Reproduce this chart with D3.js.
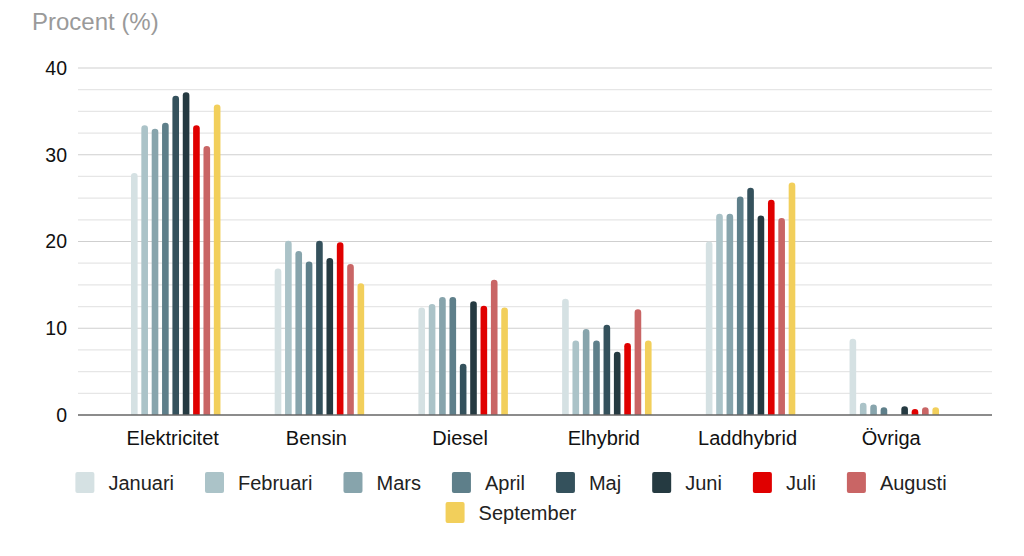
<!DOCTYPE html>
<html>
<head>
<meta charset="utf-8">
<script src="https://cdn.jsdelivr.net/npm/d3@7"></script>
<style>
  body { margin: 0; background: #fff; }
  text { font-family: "Liberation Sans", Arial, sans-serif; }
</style>
</head>
<body>
<script>
var w = 1024;
var h = 556;

var categories = ['Elektricitet', 'Bensin', 'Diesel', 'Elhybrid', 'Laddhybrid', 'Övriga'];
var months = ['Januari', 'Februari', 'Mars', 'April', 'Maj', 'Juni', 'Juli', 'Augusti', 'September'];
var colors = ['#d5e1e3', '#abc3c8', '#87a4ac', '#5e7f8a', '#34515c', '#253a41', '#e00000', '#c96565', '#f2cf5b'];

// one array per category, values per month
var elektricitet = [27.9, 33.4, 33.0, 33.7, 36.8, 37.2, 33.4, 31.0, 35.8];
var bensin       = [16.9, 20.1, 18.9, 17.7, 20.1, 18.1, 19.9, 17.4, 15.2];
var diesel       = [12.4, 12.8, 13.6, 13.6, 5.9, 13.1, 12.6, 15.6, 12.4];
var elhybrid     = [13.4, 8.6, 9.9, 8.6, 10.4, 7.3, 8.3, 12.2, 8.6];
var laddhybrid   = [20.0, 23.2, 23.2, 25.2, 26.2, 23.0, 24.8, 22.7, 26.8];
var ovriga       = [8.8, 1.4, 1.2, 0.9, 0, 1.0, 0.7, 0.9, 0.9];
var yTicks = [0, 10, 20, 30, 40];

var values = [elektricitet, bensin, diesel, elhybrid, laddhybrid, ovriga];

var svg = d3.select('body').append('svg')
  .attr('width', w)
  .attr('height', h);

var x0 = d3.scaleBand()
  .domain(categories)
  .range([78, 992])
  .paddingInner(0)
  .paddingOuter(0.18);

var x1 = d3.scaleBand()
  .domain(months)
  .range([-46.6, 46.6])
  .paddingInner(0.36)
  .paddingOuter(0.18);

var y = d3.scaleLinear()
  .domain([0, 40])
  .range([415, 68]);

// grid lines, every 2.5 units
var grid = d3.range(2.5, 40.01, 2.5);
svg.append('g').selectAll('line')
  .data(grid)
  .join('line')
  .attr('x1', 78)
  .attr('x2', 992)
  .attr('y1', d => y(d))
  .attr('y2', d => y(d))
  .attr('stroke', d => d % 10 == 0 ? '#cfcfcf' : '#e6e6e6')
  .attr('stroke-width', 1.2);

// y axis
var yAxis = svg.append('g')
  .attr('transform', 'translate(67,0)')
  .call(d3.axisLeft(y).tickValues(yTicks).tickSize(0).tickPadding(0));
yAxis.select('.domain').remove();
yAxis.selectAll('text')
  .attr('font-size', 19.5)
  .attr('fill', '#111')
  .style('font-family', '"Liberation Sans", Arial, sans-serif');

svg.append('text')
  .attr('x', 32)
  .attr('y', 30)
  .attr('font-size', 24)
  .attr('fill', '#9a9a9a')
  .text('Procent (%)');

// bars with rounded tops
function barPath(cx, top, bottom, bw) {
  var r = bw / 2;
  if (bottom - top < r) r = Math.max(bottom - top, 0);
  var l = cx - bw / 2, rr = cx + bw / 2;
  return 'M' + l + ',' + bottom +
    'L' + l + ',' + (top + r) +
    'A' + (bw / 2) + ',' + r + ' 0 0 1 ' + rr + ',' + (top + r) +
    'L' + rr + ',' + bottom + 'Z';
}

var groups = svg.append('g').selectAll('g')
  .data(categories)
  .join('g')
  .attr('transform', d => 'translate(' + (x0(d) + x0.bandwidth() / 2) + ',0)');

groups.selectAll('path')
  .data((d, i) => values[i].map((v, j) => ({ month: months[j], value: v, color: colors[j] })))
  .join('path')
  .filter(d => d.value > 0)
  .attr('d', d => barPath(x1(d.month) + x1.bandwidth() / 2, y(d.value), y(0), x1.bandwidth()))
  .attr('fill', d => d.color);

// x axis
svg.append('line')
  .attr('x1', 78)
  .attr('x2', 992)
  .attr('y1', y(0))
  .attr('y2', y(0))
  .attr('stroke', '#666')
  .attr('stroke-width', 1.5);

svg.append('g').selectAll('text')
  .data(categories)
  .join('text')
  .attr('x', d => x0(d) + x0.bandwidth() / 2 - 3)
  .attr('y', 445)
  .attr('text-anchor', 'middle')
  .attr('font-size', 20)
  .attr('fill', '#111')
  .text(d => d);

// legend
var legend = svg.append('g');
var items = legend.selectAll('g')
  .data(months)
  .join('g');
items.append('rect')
  .attr('width', 19)
  .attr('height', 21)
  .attr('rx', 2)
  .attr('fill', (d, i) => colors[i]);
items.append('text')
  .attr('x', 33)
  .attr('y', 18)
  .attr('font-size', 20)
  .attr('fill', '#222')
  .text(d => d);

var rows = [[], []];
items.each(function (d, i) {
  rows[i < 8 ? 0 : 1].push(this);
});
var rowY = [472, 502];
rows.forEach(function (row, r) {
  var widths = row.map(n => 33 + d3.select(n).select('text').node().getComputedTextLength());
  var gap = 31;
  var total = d3.sum(widths) + gap * (row.length - 1);
  var xx = 511 - total / 2;
  row.forEach(function (n, k) {
    d3.select(n).attr('transform', 'translate(' + xx + ',' + rowY[r] + ')');
    xx += widths[k] + gap;
  });
});
</script>
</body>
</html>
